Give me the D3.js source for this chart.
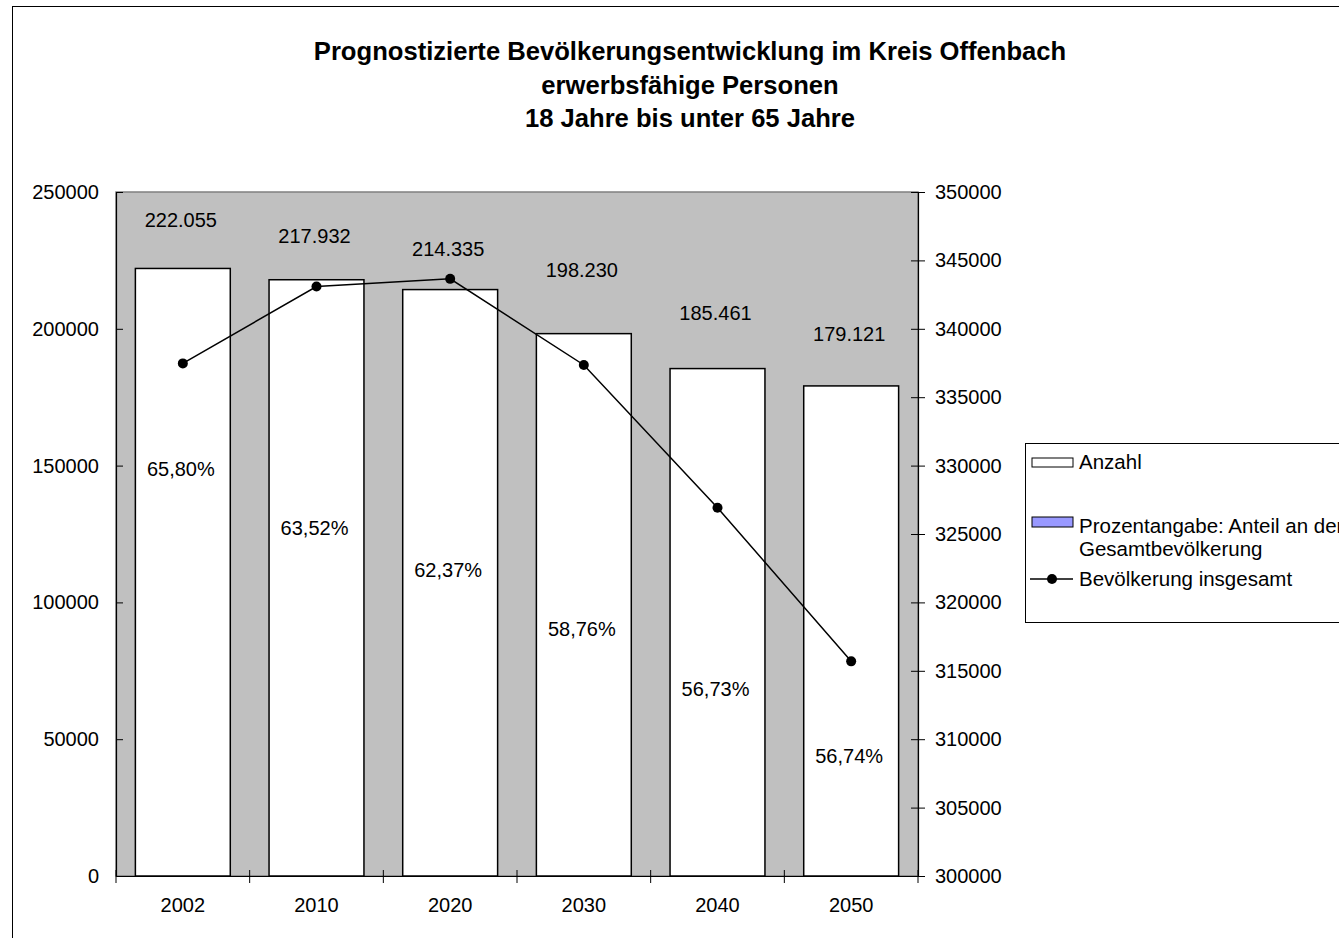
<!doctype html>
<html>
<head>
<meta charset="UTF-8">
<title>Bevölkerungsentwicklung Kreis Offenbach</title>
<script src="https://cdn.jsdelivr.net/npm/d3@7"></script>
<style>
  body { margin: 0; background: #fff; }
  svg { display: block; font-family: "Liberation Sans", Arial, sans-serif; }
</style>
</head>
<body>
<script>
// data
var years = ["2002", "2010", "2020", "2030", "2040", "2050"];
var anzahl = [222055, 217932, 214335, 198230, 185461, 179121];
var prozent = ["65,80%", "63,52%", "62,37%", "58,76%", "56,73%", "56,74%"];
var gesamt = [337470, 343090, 343650, 337355, 326920, 315690];
// where the data labels sit, in units of the left axis
var anzahlLabelAt = [239800, 233900, 229200, 221500, 205800, 198100];
var prozentLabelAt = [148800, 127200, 111800, 90300, 68300, 43900];
var leftTicks = [0, 50000, 100000, 150000, 200000, 250000];
var rightTicks = [300000, 305000, 310000, 315000, 320000, 325000, 330000, 335000, 340000, 345000, 350000];
var titleLines = ["Prognostizierte Bevölkerungsentwicklung im Kreis Offenbach",
                  "erwerbsfähige Personen",
                  "18 Jahre bis unter 65 Jahre"];
var legendItems = ["Anzahl", "Prozentangabe: Anteil an der", "Bevölkerung insgesamt"];

var W = 1339, H = 938;
var plot = {left: 116, right: 918, top: 192, bottom: 876};

var svg = d3.select("body").append("svg")
  .attr("width", W).attr("height", H);

// chart area border
svg.append("rect")
  .attr("x", 12.5).attr("y", 6.5)
  .attr("width", W + 20).attr("height", H + 20)
  .attr("fill", "#fff").attr("stroke", "#000").attr("stroke-width", 1);

var x = d3.scaleBand().domain(years).range([plot.left, plot.right]).padding(0);
var yL = d3.scaleLinear().domain([0, 250000]).range([plot.bottom, plot.top]);
var yR = d3.scaleLinear().domain([300000, 350000]).range([plot.bottom, plot.top]);

// plot area
svg.append("rect")
  .attr("x", plot.left).attr("y", plot.top)
  .attr("width", plot.right - plot.left).attr("height", plot.bottom - plot.top)
  .attr("fill", "#c0c0c0").attr("stroke", "#808080").attr("stroke-width", 1.5);

// title
svg.append("g").selectAll("text")
  .data(titleLines)
  .enter().append("text")
    .attr("x", 690)
    .attr("y", function(d, i) { return 60 + i * 33.5; })
    .attr("text-anchor", "middle")
    .attr("font-weight", "bold")
    .attr("font-size", 25.6)
    .text(function(d) { return d; });

// bars
var bw = x.bandwidth() * 0.71;
svg.append("g").selectAll("rect")
  .data(anzahl)
  .enter().append("rect")
    .attr("x", function(d, i) { return x(years[i]) + (x.bandwidth() - bw) / 2; })
    .attr("y", function(d) { return yL(d); })
    .attr("width", bw)
    .attr("height", function(d) { return yL(0) - yL(d); })
    .attr("fill", "#fff")
    .attr("stroke", "#000")
    .attr("stroke-width", 1.5);

// axes
var axisLeft = svg.append("g")
  .attr("transform", "translate(" + plot.left + ",0)")
  .call(d3.axisLeft(yL).tickValues(leftTicks).tickFormat(d3.format("d")).tickSizeInner(7).tickSizeOuter(0).tickPadding(10));
axisLeft.selectAll(".tick line").attr("x2", 7);

var axisRight = svg.append("g")
  .attr("transform", "translate(" + plot.right + ",0)")
  .call(d3.axisRight(yR).tickValues(rightTicks).tickFormat(d3.format("d")).tickSizeInner(7).tickSizeOuter(0).tickPadding(10));
axisRight.selectAll(".tick line").attr("x2", 7).attr("x1", -7);

var axisBottom = svg.append("g")
  .attr("transform", "translate(0," + plot.bottom + ")")
  .call(d3.axisBottom(x).tickSize(0).tickPadding(22));
// category boundary ticks
axisBottom.selectAll(".bound")
  .data(years.concat(["end"]))
  .enter().append("line")
    .attr("class", "bound")
    .attr("x1", function(d, i) { return plot.left + i * x.bandwidth(); })
    .attr("x2", function(d, i) { return plot.left + i * x.bandwidth(); })
    .attr("y1", -6).attr("y2", 7)
    .attr("stroke", "#000");

svg.selectAll(".domain").attr("stroke", "#000").attr("stroke-width", 1.2);
svg.selectAll(".tick line").attr("stroke", "#000");
svg.selectAll(".tick text").attr("font-size", 20).attr("fill", "#000")
  .attr("font-family", "'Liberation Sans', Arial, sans-serif");

// line series on the right axis
var line = d3.line()
  .x(function(d, i) { return x(years[i]) + x.bandwidth() / 2; })
  .y(function(d) { return yR(d); });

svg.append("path")
  .datum(gesamt)
  .attr("d", line)
  .attr("fill", "none")
  .attr("stroke", "#000")
  .attr("stroke-width", 1.5);

svg.append("g").selectAll("circle")
  .data(gesamt)
  .enter().append("circle")
    .attr("cx", function(d, i) { return x(years[i]) + x.bandwidth() / 2; })
    .attr("cy", function(d) { return yR(d); })
    .attr("r", 5)
    .attr("fill", "#000");

// data labels
var fmt = d3.formatLocale({decimal: ",", thousands: ".", grouping: [3], currency: ["", "€"]}).format(",d");
svg.append("g").selectAll("text")
  .data(anzahl)
  .enter().append("text")
    .attr("x", function(d, i) { return x(years[i]) + x.bandwidth() / 2 - 2; })
    .attr("y", function(d, i) { return yL(anzahlLabelAt[i]); })
    .attr("dy", "0.35em")
    .attr("text-anchor", "middle")
    .attr("font-size", 20)
    .text(function(d) { return fmt(d); });

svg.append("g").selectAll("text")
  .data(prozent)
  .enter().append("text")
    .attr("x", function(d, i) { return x(years[i]) + x.bandwidth() / 2 - 2; })
    .attr("y", function(d, i) { return yL(prozentLabelAt[i]); })
    .attr("dy", "0.35em")
    .attr("text-anchor", "middle")
    .attr("font-size", 20)
    .text(function(d) { return d; });

// legend
var lg = svg.append("g").attr("transform", "translate(1025,443)");
lg.append("rect")
  .attr("x", 0.5).attr("y", 0.5).attr("width", 400).attr("height", 179)
  .attr("fill", "#fff").attr("stroke", "#000");

lg.append("rect")
  .attr("x", 7).attr("y", 15).attr("width", 41).attr("height", 9)
  .attr("fill", "#fff").attr("stroke", "#000");
lg.append("rect")
  .attr("x", 7).attr("y", 74).attr("width", 41).attr("height", 10)
  .attr("fill", "#9999ff").attr("stroke", "#000");
lg.append("line")
  .attr("x1", 5).attr("x2", 48).attr("y1", 136).attr("y2", 136)
  .attr("stroke", "#000").attr("stroke-width", 1.5);
lg.append("circle").attr("cx", 27).attr("cy", 136).attr("r", 5).attr("fill", "#000");

var legendY = [19, 83, 136];
lg.selectAll("text.item")
  .data(legendItems)
  .enter().append("text")
    .attr("class", "item")
    .attr("x", 54)
    .attr("y", function(d, i) { return legendY[i]; })
    .attr("dy", "0.35em")
    .attr("font-size", 20.5)
    .text(function(d) { return d; });
lg.append("text")
  .attr("x", 54).attr("y", 106).attr("dy", "0.35em")
  .attr("font-size", 20.5)
  .text("Gesamtbevölkerung");
</script>
</body>
</html>
